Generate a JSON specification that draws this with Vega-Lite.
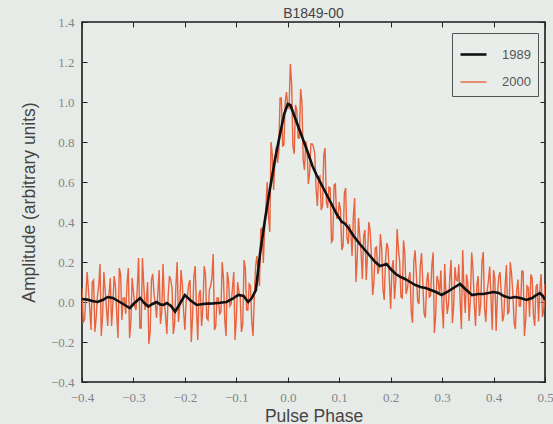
{
  "$schema": "https://vega.github.io/schema/vega-lite/v6.json",
  "autosize": "none",
  "padding": {"left": 82, "top": 22, "right": 8, "bottom": 42},
  "width": 463,
  "height": 360,
  "background": "#e6ebe8",
  "title": {"text": "B1849-00", "fontSize": 14, "font": "Liberation Sans", "color": "#444444", "fontWeight": "normal", "offset": -5},
  "config": {
    "view": {"stroke": "#1a1a1a", "strokeWidth": 1.6, "fill": "#e8ede9"},
    "axis": {"grid": false, "domain": false, "tickColor": "#222222", "tickSize": -5, "tickWidth": 1, "labelFont": "Liberation Serif", "labelFontSize": 13, "labelColor": "#858585", "titleFont": "Liberation Sans", "titleFontSize": 17.5, "titleColor": "#444444", "titleFontWeight": "normal"},
    "legend": {"orient": "none", "legendX": 370, "legendY": 11, "strokeColor": "#555555", "padding": 7, "fillColor": "#e8ede9", "labelFont": "Liberation Sans", "labelFontSize": 13, "labelColor": "#555555", "symbolType": "stroke", "symbolSize": 676, "labelOffset": 14, "rowPadding": 6, "cornerRadius": 0}
  },
  "data": {"values": [
    {"p":-0.400,"a":0.07,"s":"2000"},{"p":-0.395,"a":-0.09,"s":"2000"},{"p":-0.390,"a":0.15,"s":"2000"},{"p":-0.385,"a":-0.03,"s":"2000"},{"p":-0.380,"a":0.10,"s":"2000"},
    {"p":-0.375,"a":-0.15,"s":"2000"},{"p":-0.370,"a":0.03,"s":"2000"},{"p":-0.365,"a":0.19,"s":"2000"},{"p":-0.360,"a":-0.07,"s":"2000"},{"p":-0.355,"a":0.06,"s":"2000"},
    {"p":-0.350,"a":-0.12,"s":"2000"},{"p":-0.345,"a":0.12,"s":"2000"},{"p":-0.340,"a":-0.01,"s":"2000"},{"p":-0.335,"a":0.08,"s":"2000"},{"p":-0.330,"a":-0.18,"s":"2000"},
    {"p":-0.325,"a":0.14,"s":"2000"},{"p":-0.320,"a":0.02,"s":"2000"},{"p":-0.315,"a":-0.06,"s":"2000"},{"p":-0.310,"a":0.17,"s":"2000"},{"p":-0.305,"a":-0.10,"s":"2000"},
    {"p":-0.300,"a":0.05,"s":"2000"},{"p":-0.295,"a":-0.04,"s":"2000"},{"p":-0.290,"a":0.22,"s":"2000"},{"p":-0.285,"a":-0.13,"s":"2000"},{"p":-0.280,"a":0.09,"s":"2000"},
    {"p":-0.275,"a":0.00,"s":"2000"},{"p":-0.270,"a":-0.21,"s":"2000"},{"p":-0.265,"a":0.11,"s":"2000"},{"p":-0.260,"a":0.04,"s":"2000"},{"p":-0.255,"a":-0.08,"s":"2000"},
    {"p":-0.250,"a":0.16,"s":"2000"},{"p":-0.245,"a":-0.05,"s":"2000"},{"p":-0.240,"a":0.01,"s":"2000"},{"p":-0.235,"a":-0.16,"s":"2000"},{"p":-0.230,"a":0.13,"s":"2000"},
    {"p":-0.225,"a":0.07,"s":"2000"},{"p":-0.220,"a":-0.11,"s":"2000"},{"p":-0.215,"a":0.20,"s":"2000"},{"p":-0.210,"a":-0.02,"s":"2000"},{"p":-0.205,"a":0.09,"s":"2000"},
    {"p":-0.200,"a":-0.14,"s":"2000"},{"p":-0.195,"a":0.03,"s":"2000"},{"p":-0.190,"a":0.11,"s":"2000"},{"p":-0.185,"a":-0.07,"s":"2000"},{"p":-0.180,"a":0.18,"s":"2000"},
    {"p":-0.175,"a":-0.19,"s":"2000"},{"p":-0.170,"a":0.06,"s":"2000"},{"p":-0.165,"a":-0.03,"s":"2000"},{"p":-0.160,"a":0.14,"s":"2000"},{"p":-0.155,"a":-0.09,"s":"2000"},
    {"p":-0.150,"a":0.08,"s":"2000"},{"p":-0.145,"a":0.24,"s":"2000"},{"p":-0.140,"a":-0.12,"s":"2000"},{"p":-0.135,"a":0.02,"s":"2000"},{"p":-0.130,"a":-0.05,"s":"2000"},
    {"p":-0.125,"a":0.12,"s":"2000"},{"p":-0.120,"a":-0.17,"s":"2000"},{"p":-0.115,"a":0.10,"s":"2000"},{"p":-0.110,"a":-0.01,"s":"2000"},{"p":-0.105,"a":0.15,"s":"2000"},
    {"p":-0.100,"a":-0.08,"s":"2000"},{"p":-0.095,"a":0.05,"s":"2000"},{"p":-0.090,"a":-0.15,"s":"2000"},{"p":-0.085,"a":0.21,"s":"2000"},{"p":-0.080,"a":-0.04,"s":"2000"},
    {"p":-0.075,"a":0.09,"s":"2000"},{"p":-0.070,"a":-0.10,"s":"2000"},{"p":-0.065,"a":0.03,"s":"2000"},{"p":-0.060,"a":0.23,"s":"2000"},{"p":-0.055,"a":0.08,"s":"2000"},
    {"p":-0.050,"a":0.37,"s":"2000"},{"p":-0.045,"a":0.37,"s":"2000"},{"p":-0.040,"a":0.60,"s":"2000"},{"p":-0.035,"a":0.35,"s":"2000"},{"p":-0.030,"a":0.735,"s":"2000"},
    {"p":-0.025,"a":0.71,"s":"2000"},{"p":-0.020,"a":0.695,"s":"2000"},{"p":-0.015,"a":1.02,"s":"2000"},{"p":-0.010,"a":0.78,"s":"2000"},{"p":-0.005,"a":1.00,"s":"2000"},
    {"p":0.000,"a":0.98,"s":"2000"},{"p":0.005,"a":1.19,"s":"2000"},{"p":0.010,"a":0.78,"s":"2000"},{"p":0.015,"a":0.985,"s":"2000"},{"p":0.020,"a":0.82,"s":"2000"},
    {"p":0.025,"a":1.065,"s":"2000"},{"p":0.030,"a":0.71,"s":"2000"},{"p":0.035,"a":0.805,"s":"2000"},{"p":0.040,"a":0.59,"s":"2000"},{"p":0.045,"a":0.79,"s":"2000"},
    {"p":0.050,"a":0.775,"s":"2000"},{"p":0.055,"a":0.57,"s":"2000"},{"p":0.060,"a":0.625,"s":"2000"},{"p":0.065,"a":0.46,"s":"2000"},{"p":0.070,"a":0.735,"s":"2000"},
    {"p":0.075,"a":0.50,"s":"2000"},{"p":0.080,"a":0.575,"s":"2000"},{"p":0.085,"a":0.30,"s":"2000"},{"p":0.090,"a":0.585,"s":"2000"},{"p":0.095,"a":0.42,"s":"2000"},
    {"p":0.100,"a":0.50,"s":"2000"},{"p":0.105,"a":0.26,"s":"2000"},{"p":0.110,"a":0.545,"s":"2000"},{"p":0.115,"a":0.32,"s":"2000"},{"p":0.120,"a":0.39,"s":"2000"},
    {"p":0.125,"a":0.23,"s":"2000"},{"p":0.130,"a":0.52,"s":"2000"},{"p":0.135,"a":0.215,"s":"2000"},{"p":0.140,"a":0.33,"s":"2000"},{"p":0.145,"a":0.115,"s":"2000"},
    {"p":0.150,"a":0.36,"s":"2000"},{"p":0.155,"a":0.235,"s":"2000"},{"p":0.160,"a":0.36,"s":"2000"},{"p":0.165,"a":0.035,"s":"2000"},{"p":0.170,"a":0.27,"s":"2000"},
    {"p":0.175,"a":0.14,"s":"2000"},{"p":0.180,"a":0.34,"s":"2000"},{"p":0.185,"a":0.065,"s":"2000"},{"p":0.190,"a":0.21,"s":"2000"},{"p":0.195,"a":0.27,"s":"2000"},
    {"p":0.200,"a":-0.035,"s":"2000"},{"p":0.205,"a":0.21,"s":"2000"},{"p":0.210,"a":0.11,"s":"2000"},{"p":0.215,"a":0.27,"s":"2000"},{"p":0.220,"a":0.025,"s":"2000"},
    {"p":0.225,"a":0.308,"s":"2000"},{"p":0.230,"a":0.04,"s":"2000"},{"p":0.235,"a":0.115,"s":"2000"},{"p":0.240,"a":-0.05,"s":"2000"},{"p":0.245,"a":0.20,"s":"2000"},
    {"p":0.250,"a":0.135,"s":"2000"},{"p":0.255,"a":-0.01,"s":"2000"},{"p":0.260,"a":0.245,"s":"2000"},{"p":0.265,"a":-0.058,"s":"2000"},{"p":0.270,"a":0.10,"s":"2000"},
    {"p":0.275,"a":0.025,"s":"2000"},{"p":0.280,"a":0.18,"s":"2000"},{"p":0.285,"a":-0.155,"s":"2000"},{"p":0.290,"a":0.13,"s":"2000"},{"p":0.295,"a":0.04,"s":"2000"},
    {"p":0.300,"a":-0.025,"s":"2000"},{"p":0.305,"a":0.19,"s":"2000"},{"p":0.310,"a":-0.06,"s":"2000"},{"p":0.315,"a":0.125,"s":"2000"},{"p":0.320,"a":-0.105,"s":"2000"},
    {"p":0.325,"a":0.175,"s":"2000"},{"p":0.330,"a":0.105,"s":"2000"},{"p":0.335,"a":0.01,"s":"2000"},{"p":0.340,"a":0.26,"s":"2000"},{"p":0.345,"a":-0.055,"s":"2000"},
    {"p":0.350,"a":0.09,"s":"2000"},{"p":0.355,"a":0.02,"s":"2000"},{"p":0.360,"a":0.165,"s":"2000"},{"p":0.365,"a":-0.12,"s":"2000"},{"p":0.370,"a":0.13,"s":"2000"},
    {"p":0.375,"a":-0.01,"s":"2000"},{"p":0.380,"a":0.25,"s":"2000"},{"p":0.385,"a":-0.10,"s":"2000"},{"p":0.390,"a":0.105,"s":"2000"},{"p":0.395,"a":0.02,"s":"2000"},
    {"p":0.400,"a":0.16,"s":"2000"},{"p":0.405,"a":-0.145,"s":"2000"},{"p":0.410,"a":0.125,"s":"2000"},{"p":0.415,"a":0.045,"s":"2000"},{"p":0.420,"a":-0.07,"s":"2000"},
    {"p":0.425,"a":0.185,"s":"2000"},{"p":0.430,"a":-0.05,"s":"2000"},{"p":0.435,"a":0.14,"s":"2000"},{"p":0.440,"a":-0.105,"s":"2000"},{"p":0.445,"a":0.055,"s":"2000"},
    {"p":0.450,"a":-0.02,"s":"2000"},{"p":0.455,"a":0.155,"s":"2000"},{"p":0.460,"a":-0.17,"s":"2000"},{"p":0.465,"a":0.08,"s":"2000"},{"p":0.470,"a":-0.075,"s":"2000"},
    {"p":0.475,"a":0.12,"s":"2000"},{"p":0.480,"a":-0.12,"s":"2000"},{"p":0.485,"a":0.09,"s":"2000"},{"p":0.490,"a":0.065,"s":"2000"},{"p":0.495,"a":-0.075,"s":"2000"},
    {"p":0.500,"a":0.09,"s":"2000"},
    {"p":-0.3975,"a":-0.10,"s":"2000"},{"p":-0.3925,"a":0.03,"s":"2000"},{"p":-0.3875,"a":0.06,"s":"2000"},{"p":-0.3825,"a":-0.14,"s":"2000"},{"p":-0.3775,"a":0.11,"s":"2000"},
    {"p":-0.3725,"a":-0.08,"s":"2000"},{"p":-0.3675,"a":0.08,"s":"2000"},{"p":-0.3625,"a":-0.17,"s":"2000"},{"p":-0.3575,"a":0.15,"s":"2000"},{"p":-0.3525,"a":-0.03,"s":"2000"},
    {"p":-0.3475,"a":0.04,"s":"2000"},{"p":-0.3425,"a":-0.12,"s":"2000"},{"p":-0.3375,"a":0.13,"s":"2000"},{"p":-0.3325,"a":-0.06,"s":"2000"},{"p":-0.3275,"a":0.17,"s":"2000"},
    {"p":-0.3225,"a":-0.09,"s":"2000"},{"p":-0.3175,"a":0.02,"s":"2000"},{"p":-0.3125,"a":0.09,"s":"2000"},{"p":-0.3075,"a":-0.18,"s":"2000"},{"p":-0.3025,"a":0.12,"s":"2000"},
    {"p":-0.2975,"a":-0.02,"s":"2000"},{"p":-0.2925,"a":0.07,"s":"2000"},{"p":-0.2875,"a":-0.13,"s":"2000"},{"p":-0.2825,"a":0.22,"s":"2000"},{"p":-0.2775,"a":-0.04,"s":"2000"},
    {"p":-0.2725,"a":0.10,"s":"2000"},{"p":-0.2675,"a":-0.15,"s":"2000"},{"p":-0.2625,"a":0.14,"s":"2000"},{"p":-0.2575,"a":-0.01,"s":"2000"},{"p":-0.2525,"a":0.05,"s":"2000"},
    {"p":-0.2475,"a":-0.11,"s":"2000"},{"p":-0.2425,"a":0.19,"s":"2000"},{"p":-0.2375,"a":-0.07,"s":"2000"},{"p":-0.2325,"a":0.03,"s":"2000"},{"p":-0.2275,"a":0.11,"s":"2000"},
    {"p":-0.2225,"a":-0.16,"s":"2000"},{"p":-0.2175,"a":0.08,"s":"2000"},{"p":-0.2125,"a":-0.10,"s":"2000"},{"p":-0.2075,"a":0.16,"s":"2000"},{"p":-0.2025,"a":-0.05,"s":"2000"},
    {"p":-0.1975,"a":0.01,"s":"2000"},{"p":-0.1925,"a":0.09,"s":"2000"},{"p":-0.1875,"a":-0.20,"s":"2000"},{"p":-0.1825,"a":0.13,"s":"2000"},{"p":-0.1775,"a":-0.03,"s":"2000"},
    {"p":-0.1725,"a":0.04,"s":"2000"},{"p":-0.1675,"a":-0.12,"s":"2000"},{"p":-0.1625,"a":0.18,"s":"2000"},{"p":-0.1575,"a":-0.08,"s":"2000"},{"p":-0.1525,"a":0.06,"s":"2000"},
    {"p":-0.1475,"a":0.12,"s":"2000"},{"p":-0.1425,"a":-0.14,"s":"2000"},{"p":-0.1375,"a":0.02,"s":"2000"},{"p":-0.1325,"a":-0.06,"s":"2000"},{"p":-0.1275,"a":0.20,"s":"2000"},
    {"p":-0.1225,"a":-0.09,"s":"2000"},{"p":-0.1175,"a":0.15,"s":"2000"},{"p":-0.1125,"a":-0.02,"s":"2000"},{"p":-0.1075,"a":0.07,"s":"2000"},{"p":-0.1025,"a":-0.19,"s":"2000"},
    {"p":-0.0975,"a":0.10,"s":"2000"},{"p":-0.0925,"a":0.03,"s":"2000"},{"p":-0.0875,"a":-0.11,"s":"2000"},{"p":-0.0825,"a":0.17,"s":"2000"},{"p":-0.0775,"a":-0.04,"s":"2000"},
    {"p":-0.0725,"a":0.08,"s":"2000"},{"p":-0.0675,"a":-0.17,"s":"2000"},{"p":-0.0625,"a":0.18,"s":"2000"},{"p":-0.0575,"a":0.14,"s":"2000"},{"p":-0.0525,"a":0.365,"s":"2000"},
    {"p":-0.0475,"a":0.195,"s":"2000"},{"p":-0.0425,"a":0.48,"s":"2000"},{"p":-0.0375,"a":0.43,"s":"2000"},{"p":-0.0325,"a":0.80,"s":"2000"},{"p":-0.0275,"a":0.56,"s":"2000"},
    {"p":-0.0225,"a":0.775,"s":"2000"},{"p":-0.0175,"a":0.75,"s":"2000"},{"p":-0.0125,"a":1.02,"s":"2000"},{"p":-0.0075,"a":0.785,"s":"2000"},{"p":-0.0025,"a":1.05,"s":"2000"},
    {"p":0.0025,"a":0.97,"s":"2000"},{"p":0.0075,"a":1.09,"s":"2000"},{"p":0.0125,"a":0.74,"s":"2000"},{"p":0.0175,"a":0.96,"s":"2000"},{"p":0.0225,"a":0.82,"s":"2000"},
    {"p":0.0275,"a":1.00,"s":"2000"},{"p":0.0325,"a":0.66,"s":"2000"},{"p":0.0375,"a":0.765,"s":"2000"},{"p":0.0425,"a":0.65,"s":"2000"},{"p":0.0475,"a":0.79,"s":"2000"},
    {"p":0.0525,"a":0.74,"s":"2000"},{"p":0.0575,"a":0.48,"s":"2000"},{"p":0.0625,"a":0.63,"s":"2000"},{"p":0.0675,"a":0.48,"s":"2000"},{"p":0.0725,"a":0.77,"s":"2000"},
    {"p":0.0775,"a":0.47,"s":"2000"},{"p":0.0825,"a":0.57,"s":"2000"},{"p":0.0875,"a":0.31,"s":"2000"},{"p":0.0925,"a":0.59,"s":"2000"},{"p":0.0975,"a":0.42,"s":"2000"},
    {"p":0.1025,"a":0.46,"s":"2000"},{"p":0.1075,"a":0.28,"s":"2000"},{"p":0.1125,"a":0.57,"s":"2000"},{"p":0.1175,"a":0.29,"s":"2000"},{"p":0.1225,"a":0.35,"s":"2000"},
    {"p":0.1275,"a":0.43,"s":"2000"},{"p":0.1325,"a":0.10,"s":"2000"},{"p":0.1375,"a":0.42,"s":"2000"},{"p":0.1425,"a":0.25,"s":"2000"},{"p":0.1475,"a":0.33,"s":"2000"},
    {"p":0.1525,"a":0.11,"s":"2000"},{"p":0.1575,"a":0.40,"s":"2000"},{"p":0.1625,"a":0.24,"s":"2000"},{"p":0.1675,"a":0.10,"s":"2000"},{"p":0.1725,"a":0.275,"s":"2000"},
    {"p":0.1775,"a":0.165,"s":"2000"},{"p":0.1825,"a":0.27,"s":"2000"},{"p":0.1875,"a":0.01,"s":"2000"},{"p":0.1925,"a":0.295,"s":"2000"},{"p":0.1975,"a":0.11,"s":"2000"},
    {"p":0.2025,"a":0.17,"s":"2000"},{"p":0.2075,"a":0.015,"s":"2000"},{"p":0.2125,"a":0.365,"s":"2000"},{"p":0.2175,"a":0.198,"s":"2000"},{"p":0.2225,"a":0.02,"s":"2000"},
    {"p":0.2275,"a":0.245,"s":"2000"},{"p":0.2325,"a":0.068,"s":"2000"},{"p":0.2375,"a":0.15,"s":"2000"},{"p":0.2425,"a":-0.105,"s":"2000"},{"p":0.2475,"a":0.258,"s":"2000"},
    {"p":0.2525,"a":0.003,"s":"2000"},{"p":0.2575,"a":0.178,"s":"2000"},{"p":0.2625,"a":0.094,"s":"2000"},{"p":0.2675,"a":-0.079,"s":"2000"},{"p":0.2725,"a":0.148,"s":"2000"},
    {"p":0.2775,"a":0.032,"s":"2000"},{"p":0.2825,"a":0.248,"s":"2000"},{"p":0.2875,"a":-0.068,"s":"2000"},{"p":0.2925,"a":0.105,"s":"2000"},{"p":0.2975,"a":0.158,"s":"2000"},
    {"p":0.3025,"a":-0.132,"s":"2000"},{"p":0.3075,"a":0.045,"s":"2000"},{"p":0.3125,"a":-0.008,"s":"2000"},{"p":0.3175,"a":0.21,"s":"2000"},{"p":0.3225,"a":-0.02,"s":"2000"},
    {"p":0.3275,"a":0.11,"s":"2000"},{"p":0.3325,"a":0.188,"s":"2000"},{"p":0.3375,"a":-0.135,"s":"2000"},{"p":0.3425,"a":0.062,"s":"2000"},{"p":0.3475,"a":0.138,"s":"2000"},
    {"p":0.3525,"a":-0.095,"s":"2000"},{"p":0.3575,"a":0.247,"s":"2000"},{"p":0.3625,"a":-0.013,"s":"2000"},{"p":0.3675,"a":0.08,"s":"2000"},{"p":0.3725,"a":-0.07,"s":"2000"},
    {"p":0.3775,"a":0.20,"s":"2000"},{"p":0.3825,"a":-0.03,"s":"2000"},{"p":0.3875,"a":0.053,"s":"2000"},{"p":0.3925,"a":0.177,"s":"2000"},{"p":0.3975,"a":-0.14,"s":"2000"},
    {"p":0.4025,"a":0.118,"s":"2000"},{"p":0.4075,"a":0.025,"s":"2000"},{"p":0.4125,"a":0.15,"s":"2000"},{"p":0.4175,"a":-0.097,"s":"2000"},{"p":0.4225,"a":0.078,"s":"2000"},
    {"p":0.4275,"a":-0.058,"s":"2000"},{"p":0.4325,"a":0.20,"s":"2000"},{"p":0.4375,"a":0.042,"s":"2000"},{"p":0.4425,"a":-0.135,"s":"2000"},{"p":0.4475,"a":0.112,"s":"2000"},
    {"p":0.4525,"a":-0.02,"s":"2000"},{"p":0.4575,"a":0.153,"s":"2000"},{"p":0.4625,"a":-0.09,"s":"2000"},{"p":0.4675,"a":0.072,"s":"2000"},{"p":0.4725,"a":0.138,"s":"2000"},
    {"p":0.4775,"a":-0.065,"s":"2000"},{"p":0.4825,"a":0.075,"s":"2000"},{"p":0.4875,"a":-0.097,"s":"2000"},{"p":0.4925,"a":0.14,"s":"2000"},{"p":0.4975,"a":-0.04,"s":"2000"},
    {"p":-0.400,"a":0.015,"s":"1989"},{"p":-0.390,"a":0.012,"s":"1989"},{"p":-0.380,"a":0.005,"s":"1989"},{"p":-0.370,"a":0.000,"s":"1989"},{"p":-0.360,"a":0.010,"s":"1989"},
    {"p":-0.350,"a":0.025,"s":"1989"},{"p":-0.340,"a":0.020,"s":"1989"},{"p":-0.330,"a":0.005,"s":"1989"},{"p":-0.320,"a":-0.010,"s":"1989"},{"p":-0.307,"a":-0.030,"s":"1989"},
    {"p":-0.298,"a":-0.005,"s":"1989"},{"p":-0.287,"a":0.020,"s":"1989"},{"p":-0.279,"a":-0.005,"s":"1989"},{"p":-0.271,"a":-0.023,"s":"1989"},{"p":-0.263,"a":-0.010,"s":"1989"},
    {"p":-0.255,"a":0.000,"s":"1989"},{"p":-0.248,"a":-0.012,"s":"1989"},{"p":-0.242,"a":-0.015,"s":"1989"},{"p":-0.235,"a":-0.005,"s":"1989"},{"p":-0.227,"a":-0.020,"s":"1989"},
    {"p":-0.219,"a":-0.048,"s":"1989"},{"p":-0.210,"a":-0.010,"s":"1989"},{"p":-0.200,"a":0.035,"s":"1989"},{"p":-0.190,"a":0.010,"s":"1989"},{"p":-0.177,"a":-0.015,"s":"1989"},
    {"p":-0.165,"a":-0.010,"s":"1989"},{"p":-0.155,"a":-0.008,"s":"1989"},{"p":-0.145,"a":-0.007,"s":"1989"},{"p":-0.132,"a":-0.004,"s":"1989"},{"p":-0.119,"a":0.000,"s":"1989"},
    {"p":-0.108,"a":0.015,"s":"1989"},{"p":-0.096,"a":0.035,"s":"1989"},{"p":-0.086,"a":0.030,"s":"1989"},{"p":-0.077,"a":0.000,"s":"1989"},{"p":-0.070,"a":0.020,"s":"1989"},
    {"p":-0.062,"a":0.060,"s":"1989"},{"p":-0.054,"a":0.240,"s":"1989"},{"p":-0.045,"a":0.400,"s":"1989"},{"p":-0.035,"a":0.560,"s":"1989"},{"p":-0.025,"a":0.710,"s":"1989"},
    {"p":-0.015,"a":0.840,"s":"1989"},{"p":-0.007,"a":0.940,"s":"1989"},{"p":0.000,"a":0.990,"s":"1989"},{"p":0.005,"a":0.985,"s":"1989"},{"p":0.010,"a":0.950,"s":"1989"},
    {"p":0.020,"a":0.880,"s":"1989"},{"p":0.030,"a":0.810,"s":"1989"},{"p":0.040,"a":0.740,"s":"1989"},{"p":0.048,"a":0.680,"s":"1989"},{"p":0.056,"a":0.635,"s":"1989"},
    {"p":0.065,"a":0.590,"s":"1989"},{"p":0.075,"a":0.540,"s":"1989"},{"p":0.085,"a":0.490,"s":"1989"},{"p":0.095,"a":0.440,"s":"1989"},{"p":0.105,"a":0.400,"s":"1989"},
    {"p":0.110,"a":0.395,"s":"1989"},{"p":0.118,"a":0.370,"s":"1989"},{"p":0.128,"a":0.330,"s":"1989"},{"p":0.140,"a":0.290,"s":"1989"},{"p":0.150,"a":0.260,"s":"1989"},
    {"p":0.160,"a":0.230,"s":"1989"},{"p":0.170,"a":0.200,"s":"1989"},{"p":0.179,"a":0.180,"s":"1989"},{"p":0.186,"a":0.185,"s":"1989"},{"p":0.192,"a":0.190,"s":"1989"},
    {"p":0.200,"a":0.165,"s":"1989"},{"p":0.210,"a":0.140,"s":"1989"},{"p":0.218,"a":0.127,"s":"1989"},{"p":0.228,"a":0.115,"s":"1989"},{"p":0.238,"a":0.100,"s":"1989"},
    {"p":0.248,"a":0.085,"s":"1989"},{"p":0.258,"a":0.075,"s":"1989"},{"p":0.268,"a":0.070,"s":"1989"},{"p":0.278,"a":0.060,"s":"1989"},{"p":0.288,"a":0.050,"s":"1989"},
    {"p":0.299,"a":0.035,"s":"1989"},{"p":0.310,"a":0.050,"s":"1989"},{"p":0.322,"a":0.070,"s":"1989"},{"p":0.335,"a":0.090,"s":"1989"},{"p":0.345,"a":0.065,"s":"1989"},
    {"p":0.358,"a":0.035,"s":"1989"},{"p":0.370,"a":0.040,"s":"1989"},{"p":0.380,"a":0.040,"s":"1989"},{"p":0.390,"a":0.045,"s":"1989"},{"p":0.400,"a":0.050,"s":"1989"},
    {"p":0.410,"a":0.045,"s":"1989"},{"p":0.420,"a":0.030,"s":"1989"},{"p":0.432,"a":0.020,"s":"1989"},{"p":0.442,"a":0.025,"s":"1989"},{"p":0.452,"a":0.020,"s":"1989"},
    {"p":0.464,"a":0.010,"s":"1989"},{"p":0.475,"a":0.020,"s":"1989"},{"p":0.483,"a":0.035,"s":"1989"},{"p":0.490,"a":0.045,"s":"1989"},{"p":0.496,"a":0.030,"s":"1989"},
    {"p":0.500,"a":0.010,"s":"1989"}
  ]},
  "resolve": {"axis": {"x": "independent", "y": "independent"}},
  "layer": [
    {
      "transform": [{"filter": "datum.s == '2000'"}],
      "mark": {"type": "line", "strokeWidth": 1.4, "clip": true},
      "encoding": {
        "x": {"field": "p", "type": "quantitative", "scale": {"domain": [-0.4, 0.5], "nice": false, "zero": false},
              "axis": {"orient": "bottom", "title": "Pulse Phase", "values": [-0.4,-0.3,-0.2,-0.1,0,0.1,0.2,0.3,0.4,0.5], "format": ".1f", "labelPadding": 14, "titlePadding": 3, "labelFlush": false}},
        "y": {"field": "a", "type": "quantitative", "scale": {"domain": [-0.4, 1.4], "nice": false, "zero": false},
              "axis": {"orient": "left", "title": "Amplitude (arbitrary units)", "values": [-0.4,-0.2,0,0.2,0.4,0.6,0.8,1.0,1.2,1.4], "format": ".1f", "labelPadding": 13, "titlePadding": 12}},
        "color": {"field": "s", "type": "nominal", "scale": {"domain": ["1989", "2000"], "range": ["#111111", "#e9633f"]}, "legend": {"title": null}},
        "strokeWidth": {"field": "s", "type": "nominal", "scale": {"type": "ordinal", "domain": ["1989", "2000"], "range": [2.6, 1.4]}, "legend": {"title": null}}
      }
    },
    {
      "transform": [{"filter": "datum.s == '1989'"}],
      "mark": {"type": "line", "strokeWidth": 2.6, "clip": true},
      "encoding": {
        "x": {"field": "p", "type": "quantitative", "axis": {"orient": "top", "title": null, "labels": false, "values": [-0.4,-0.3,-0.2,-0.1,0,0.1,0.2,0.3,0.4,0.5]}},
        "y": {"field": "a", "type": "quantitative", "axis": {"orient": "right", "title": null, "labels": false, "values": [-0.4,-0.2,0,0.2,0.4,0.6,0.8,1.0,1.2,1.4]}},
        "color": {"field": "s", "type": "nominal", "scale": {"domain": ["1989", "2000"], "range": ["#111111", "#e9633f"]}, "legend": {"title": null}},
        "strokeWidth": {"field": "s", "type": "nominal", "scale": {"type": "ordinal", "domain": ["1989", "2000"], "range": [2.6, 1.4]}, "legend": {"title": null}}
      }
    }
  ]
}
